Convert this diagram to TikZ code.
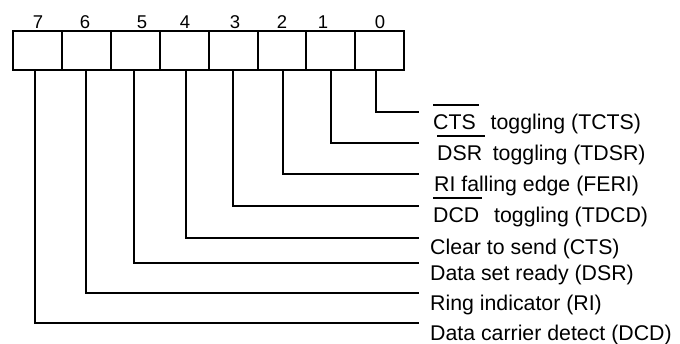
\documentclass[tikz,border=0pt]{standalone}
\usepackage{fontspec}
\setmainfont{Liberation Sans}
\newcommand\ovl[1]{\setbox0=\hbox{#1}\rlap{\rule[1.08em]{\dimexpr\wd0+3pt\relax}{1.8pt}}\box0}
\begin{document}
\begin{tikzpicture}[x=1pt,y=-1pt,
  cell/.style={draw,line width=1.8pt,minimum width=49pt,minimum height=39pt,inner sep=0pt,outer sep=0pt},
  digit/.style={inner sep=0pt,anchor=base,font=\fontsize{18.5}{20}\selectfont},
  lab/.style={inner sep=0pt,anchor=base west,font=\fontsize{21.3}{24}\selectfont},
  wire/.style={line width=1.8pt,line join=miter}]
\useasboundingbox (0,0) rectangle (680,343);
% register cells
\foreach \i/\x in {7/37.5,6/86.5,5/135.5,4/184.5,3/233.5,2/282,1/330.5,0/379.5}{
  \node[cell] (c\i) at (\x,50.5) {};
}
% bit numbers
\node[digit] (d7) at (38,28) {7};
\node[digit] (d6) at (85,28) {6};
\node[digit] (d5) at (142,28) {5};
\node[digit] (d4) at (185,28) {4};
\node[digit] (d3) at (235,28) {3};
\node[digit] (d2) at (282,28) {2};
\node[digit] (d1) at (323,28) {1};
\node[digit] (d0) at (380,28) {0};
% labels
\node[lab] (l0) at (433,129) {\ovl{CTS}\hspace{0.7em}toggling (TCTS)};
\node[lab] (l1) at (437,160) {\ovl{DSR}\hspace{0.5em}toggling (TDSR)};
\node[lab] (l2) at (434,191) {RI falling edge (FERI)};
\node[lab] (l3) at (433,222) {\ovl{DCD}\hspace{0.7em}toggling (TDCD)};
\node[lab] (l4) at (430,254) {Clear to send (CTS)};
\node[lab] (l5) at (430,280) {Data set ready (DSR)};
\node[lab] (l6) at (430,310) {Ring indicator (RI)};
\node[lab] (l7) at (430,340) {Data carrier detect (DCD)};
% wire ends
\foreach \i/\y in {0/112,1/143,2/174,3/206,4/238,5/263,6/293,7/323}{
  \coordinate (e\i) at (419,\y);
}
\draw[wire] ([xshift=-2.5pt]c7.south) |- (e7);
\draw[wire] ([xshift=-0.5pt]c6.south) |- (e6);
\draw[wire] ([xshift=-1.5pt]c5.south) |- (e5);
\draw[wire] ([xshift=1.5pt]c4.south) |- (e4);
\draw[wire] ([xshift=-0.5pt]c3.south) |- (e3);
\draw[wire] ([xshift=1pt]c2.south) |- (e2);
\draw[wire] ([xshift=0.5pt]c1.south) |- (e1);
\draw[wire] ([xshift=-3.5pt]c0.south) |- (e0);
\end{tikzpicture}
\end{document}
